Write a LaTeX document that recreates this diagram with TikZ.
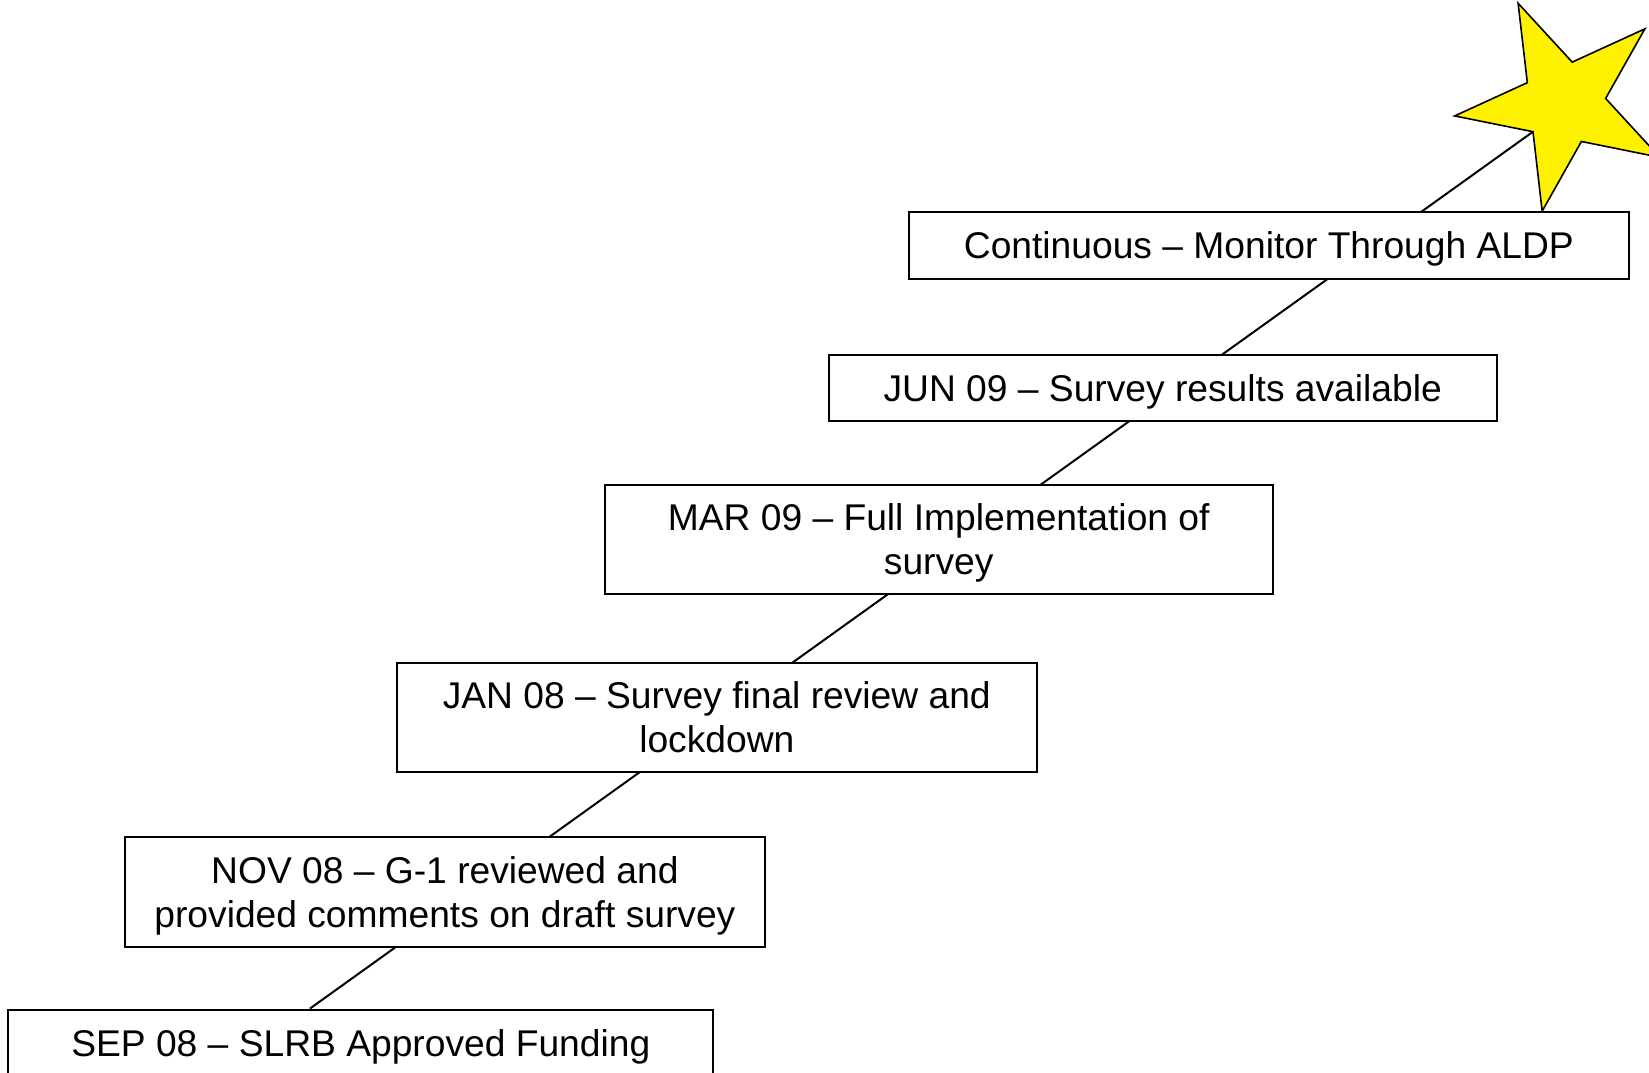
\documentclass[tikz,border=0pt]{standalone}
\usepackage{fontspec}
\setmainfont{Liberation Sans}
\usepackage{tikz}
\usetikzlibrary{backgrounds,calc}
\tikzset{
    %Define style for boxes
    milestone/.style={
           rectangle,
           draw=black, line width=1pt,
           fill=white,
           inner sep=0pt,
           align=center,
           text depth=0pt,
           font=\fontsize{18.6}{22}\selectfont,
           text centered},
    %Define style for the star
    goal/.style={
           draw=black, line width=0.8pt,
           line join=miter,
           fill=yellow},
    % Define line style
    trail/.style={
           line width=1pt,
           draw=black}
}
\begin{document}
\begin{tikzpicture}[x=0.5pt,y=0.5pt]
\useasboundingbox (0,0) rectangle (1649,1072);
 %star
\coordinate (sc) at (1563.9,968.7);
\draw[goal] ($(sc)+(114.6:110)$)
    \foreach \k in {0,...,4}{ -- ($(sc)+(150.6+72*\k:42)$) -- ($(sc)+(186.6+72*\k:110)$)} -- cycle;
\coordinate (tip) at ($(sc)+(222.6:42)$);
 %nodes
\node[milestone, minimum width=360.2pt, minimum height=33.2pt] (cont) at (1268.9,826.5) {Continuous – Monitor Through ALDP};
\node[milestone, minimum width=334pt, minimum height=32.6pt] (jun) at (1162.7,683.9) {JUN 09 – Survey results available};
\node[milestone, minimum width=334pt, minimum height=54.7pt] (mar) at (938.7,532.5) {MAR 09 – Full Implementation of\\survey};
\node[milestone, minimum width=320.3pt, minimum height=54.7pt] (jan) at (716.8,354.7) {JAN 08 – Survey final review and\\lockdown};
\node[milestone, minimum width=319.7pt, minimum height=54.7pt] (nov) at (444.9,180.1) {NOV 08 – G-1 reviewed and\\provided comments on draft survey};
\node[milestone, minimum width=352.4pt, minimum height=33pt] (sep) at (360.8,29.4) {SEP 08 – SLRB Approved Funding};
\coordinate (base) at ($(sep.north west)!0.428!(sep.north east)$);
 %line behind the boxes
\begin{scope}[on background layer]
\draw[trail] (base) -- (tip);
\end{scope}
\end{tikzpicture}
\end{document}
